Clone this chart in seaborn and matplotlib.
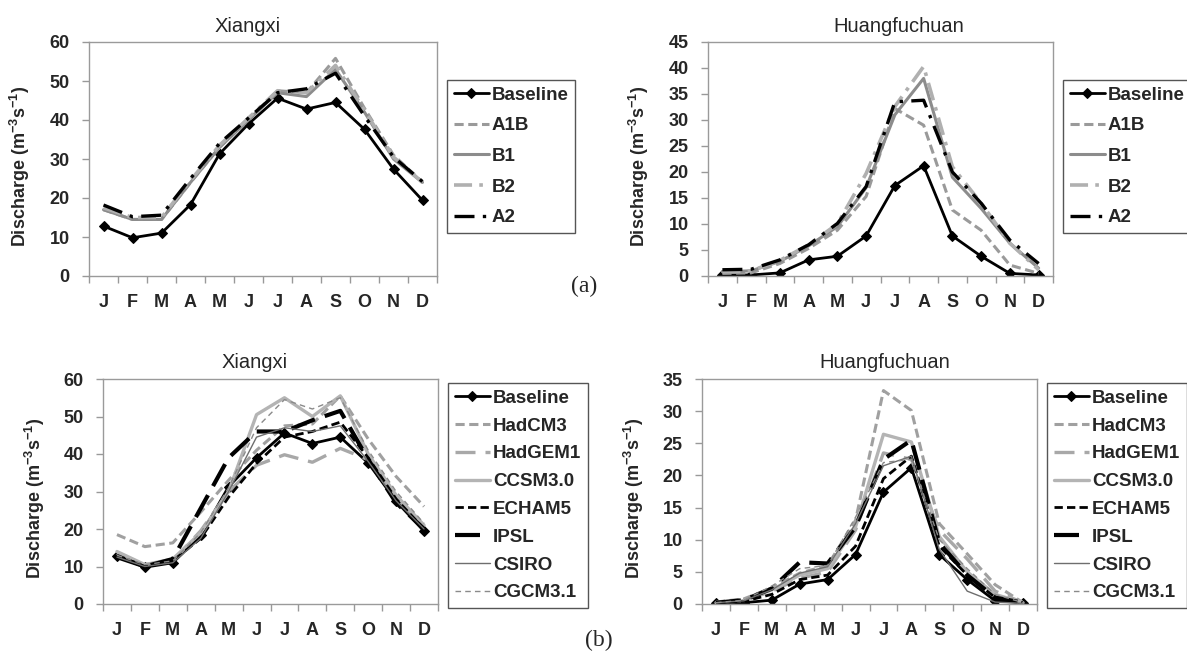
import numpy as np
import pandas as pd
import matplotlib
matplotlib.use("Agg")
import matplotlib.pyplot as plt
import seaborn as sns
from matplotlib.ticker import MultipleLocator, FixedLocator

# Month labels and positions
months = ["J", "F", "M", "A", "M", "J", "J", "A", "S", "O", "N", "D"]
month_idx = np.arange(12)

# (a) emission scenarios
xiangxi_baseline = [12.8, 9.8, 11.0, 18.3, 31.3, 39.0, 45.6, 42.8, 44.5, 37.6, 27.4, 19.4]
xiangxi_a1b = [17.0, 14.5, 14.5, 24.0, 33.0, 40.0, 47.5, 47.0, 55.8, 43.0, 31.0, 24.0]
xiangxi_b1 = [17.0, 14.5, 14.5, 24.0, 33.0, 40.0, 47.0, 46.0, 53.0, 42.0, 30.0, 24.0]
xiangxi_b2 = [17.5, 15.0, 15.0, 24.5, 33.5, 40.5, 47.5, 47.0, 54.0, 42.5, 30.5, 24.0]
xiangxi_a2 = [18.2, 15.2, 15.6, 25.0, 34.0, 40.5, 47.0, 48.0, 52.0, 41.0, 30.5, 24.2]

huang_baseline = [0.2, 0.2, 0.6, 3.1, 3.8, 7.7, 17.4, 21.2, 7.7, 3.8, 0.5, 0.2]
huang_a1b = [0.5, 0.6, 2.4, 5.3, 8.8, 15.3, 32.2, 29.0, 12.7, 8.8, 2.1, 0.5]
huang_b1 = [0.8, 1.0, 2.8, 5.8, 9.5, 17.0, 31.0, 38.0, 19.0, 13.0, 6.3, 1.5]
huang_b2 = [0.8, 1.0, 3.0, 6.0, 10.0, 19.7, 32.6, 40.3, 21.0, 14.0, 6.3, 1.2]
huang_a2 = [1.2, 1.3, 3.1, 6.0, 10.1, 17.2, 33.5, 33.8, 20.0, 14.0, 6.9, 2.4]

# (b) GCMs
xiangxi_hadcm3 = [18.5, 15.3, 16.3, 24.5, 33.0, 41.0, 47.5, 48.0, 55.5, 44.0, 34.0, 26.0]
xiangxi_hadgem1 = [13.5, 10.5, 11.5, 19.5, 30.0, 37.0, 39.8, 37.8, 41.5, 38.5, 28.0, 20.5]
xiangxi_ccsm3 = [14.0, 10.5, 12.0, 19.0, 30.0, 50.5, 55.0, 50.0, 55.5, 40.0, 29.0, 21.0]
xiangxi_echam5 = [13.0, 10.0, 11.5, 17.5, 28.5, 37.5, 44.5, 46.0, 48.5, 39.0, 28.0, 20.0]
xiangxi_ipsl = [12.5, 10.0, 12.0, 25.5, 39.0, 46.0, 46.0, 49.0, 51.5, 38.5, 27.0, 20.0]
xiangxi_csiro = [12.5, 10.0, 11.0, 17.5, 30.0, 44.5, 47.0, 46.0, 47.5, 38.0, 27.5, 20.0]
xiangxi_cgcm31 = [13.0, 10.5, 11.5, 19.0, 31.0, 47.0, 54.5, 52.0, 55.0, 41.0, 30.0, 21.5]

huang_hadcm3 = [0.3, 0.8, 2.5, 4.8, 6.0, 13.0, 33.2, 30.1, 12.5, 7.8, 3.0, 0.2]
huang_hadgem1 = [0.2, 0.5, 2.0, 4.0, 5.0, 11.5, 23.5, 22.5, 11.5, 7.0, 2.0, 0.2]
huang_ccsm3 = [0.2, 0.5, 2.2, 4.5, 5.5, 12.0, 26.4, 25.2, 10.5, 5.0, 1.5, 0.2]
huang_echam5 = [0.2, 0.4, 1.5, 3.8, 4.5, 9.0, 19.5, 23.0, 9.0, 4.5, 1.0, 0.2]
huang_ipsl = [0.2, 0.6, 2.4, 6.5, 6.3, 12.0, 22.5, 25.5, 9.5, 4.5, 1.0, 0.2]
huang_csiro = [0.2, 0.5, 2.2, 4.8, 5.8, 12.5, 21.5, 23.0, 8.5, 2.0, 0.3, 0.1]
huang_cgcm31 = [0.2, 0.6, 2.8, 5.5, 6.0, 13.5, 22.0, 22.5, 10.0, 5.5, 1.5, 0.2]

scenario_names = ["Baseline", "A1B", "B1", "B2", "A2"]
gcm_names = ["Baseline", "HadCM3", "HadGEM1", "CCSM3.0", "ECHAM5", "IPSL", "CSIRO", "CGCM3.1"]

sns.set_theme(style="white")
plt.rcParams["font.family"] = ["Liberation Sans", "DejaVu Sans"]
plt.rcParams["mathtext.fontset"] = "custom"
plt.rcParams["mathtext.rm"] = "Liberation Sans"
plt.rcParams["mathtext.bf"] = "Liberation Sans:bold"

# Line styles for each series
base_style = dict(color="black", lw=2.0, linestyle="-", marker="D", markersize=5.5)
scenario_styles = {
    "Baseline": base_style,
    "A1B": dict(color="#9a9a9a", lw=2.2, linestyle=(0, (3, 1.5))),
    "B1": dict(color="#8c8c8c", lw=2.2, linestyle="-"),
    "B2": dict(color="#b0b0b0", lw=2.6, linestyle=(0, (5, 2, 1, 2))),
    "A2": dict(color="black", lw=2.4, linestyle=(0, (6, 2.5, 1, 2.5))),
}
gcm_styles = {
    "Baseline": base_style,
    "HadCM3": dict(color="#a0a0a0", lw=2.2, linestyle=(0, (3, 1.5))),
    "HadGEM1": dict(color="#a8a8a8", lw=2.4, linestyle=(0, (6, 3))),
    "CCSM3.0": dict(color="#b4b4b4", lw=2.4, linestyle="-"),
    "ECHAM5": dict(color="black", lw=2.0, linestyle=(0, (3, 1.5))),
    "IPSL": dict(color="black", lw=3.0, linestyle=(0, (6, 2.5))),
    "CSIRO": dict(color="#6e6e6e", lw=1.0, linestyle="-"),
    "CGCM3.1": dict(color="#8a8a8a", lw=1.0, linestyle=(0, (4, 3))),
}

W, H = 1187, 652
fig = plt.figure(figsize=(W / 100, H / 100), dpi=100)


def px_axes(x0, x1, y0, y1):
    return fig.add_axes([x0 / W, 1 - y1 / H, (x1 - x0) / W, (y1 - y0) / H])


def draw_panel(ax, series, names, styles, ymax, ystep, title, title_xy, legend_xy,
               label_x, spacing):
    for name, vals in zip(names, series):
        st = dict(styles[name])
        sns.lineplot(x=month_idx, y=vals, ax=ax, label=name, errorbar=None,
                     markeredgecolor=st.get("color"), **st)
    ax.set_xlim(-0.5, 11.5)
    ax.set_ylim(0, ymax)
    ax.yaxis.set_major_locator(MultipleLocator(ystep))
    ax.xaxis.set_major_locator(FixedLocator(month_idx))
    ax.xaxis.set_minor_locator(FixedLocator(np.arange(-0.5, 12, 1)))
    ax.set_xticklabels(months, fontweight="bold", fontsize=13)
    for t in ax.get_yticklabels():
        t.set_fontweight("bold")
        t.set_fontsize(13)
    ax.tick_params(axis="x", which="major", length=0, pad=13)
    ax.tick_params(axis="x", which="minor", length=5, width=1, color="#999999",
                   direction="out", bottom=True)
    ax.tick_params(axis="y", which="major", length=5, width=1, color="#999999",
                   direction="out", left=True, pad=9)
    for sp in ax.spines.values():
        sp.set_color("#9a9a9a")
        sp.set_linewidth(1.0)
    ax.set_xlabel("")
    ax.set_ylabel("Discharge (m$^{\\mathbf{-3}}$s$^{\\mathbf{-1}}$)", fontweight="bold",
                  fontsize=13)
    ax.yaxis.set_label_coords(label_x, 0.47)
    fig.text(title_xy[0] / W, 1 - title_xy[1] / H, title, ha="center", va="center",
             fontsize=14.5)
    handles, labels = ax.get_legend_handles_labels()
    leg = ax.legend(handles, labels, loc="upper left",
                    bbox_to_anchor=(legend_xy[0] / W, 1 - legend_xy[1] / H),
                    bbox_transform=fig.transFigure, frameon=True, fancybox=False,
                    edgecolor="#555555", framealpha=1, borderpad=0.35,
                    labelspacing=spacing, handlelength=1.9, handletextpad=0.15,
                    borderaxespad=0, numpoints=1,
                    prop=dict(weight="bold", size=13.5))
    leg.get_frame().set_linewidth(1.0)


ax1 = px_axes(89, 437, 42, 276)
draw_panel(ax1, [xiangxi_baseline, xiangxi_a1b, xiangxi_b1, xiangxi_b2, xiangxi_a2],
           scenario_names, scenario_styles, 60, 10, "Xiangxi", (248, 27), (447, 80),
           -0.164, 0.72)

ax2 = px_axes(708, 1053, 42, 276)
draw_panel(ax2, [huang_baseline, huang_a1b, huang_b1, huang_b2, huang_a2],
           scenario_names, scenario_styles, 45, 5, "Huangfuchuan", (899, 27), (1063, 80),
           -0.164, 0.72)

ax3 = px_axes(103, 438, 379, 604)
draw_panel(ax3, [xiangxi_baseline, xiangxi_hadcm3, xiangxi_hadgem1, xiangxi_ccsm3,
                 xiangxi_echam5, xiangxi_ipsl, xiangxi_csiro, xiangxi_cgcm31],
           gcm_names, gcm_styles, 60, 10, "Xiangxi", (255, 363), (448, 383),
           -0.167, 0.57)

ax4 = px_axes(702, 1037, 379, 604)
draw_panel(ax4, [huang_baseline, huang_hadcm3, huang_hadgem1, huang_ccsm3,
                 huang_echam5, huang_ipsl, huang_csiro, huang_cgcm31],
           gcm_names, gcm_styles, 35, 5, "Huangfuchuan", (885, 362), (1047, 383),
           -0.167, 0.57)

fig.text(584 / W, 1 - 286 / H, "(a)", ha="center", va="center", fontsize=17,
         family=["Liberation Serif", "DejaVu Serif"])
fig.text(599 / W, 1 - 640 / H, "(b)", ha="center", va="center", fontsize=17,
         family=["Liberation Serif", "DejaVu Serif"])

fig.savefig("out.png", dpi=100)
